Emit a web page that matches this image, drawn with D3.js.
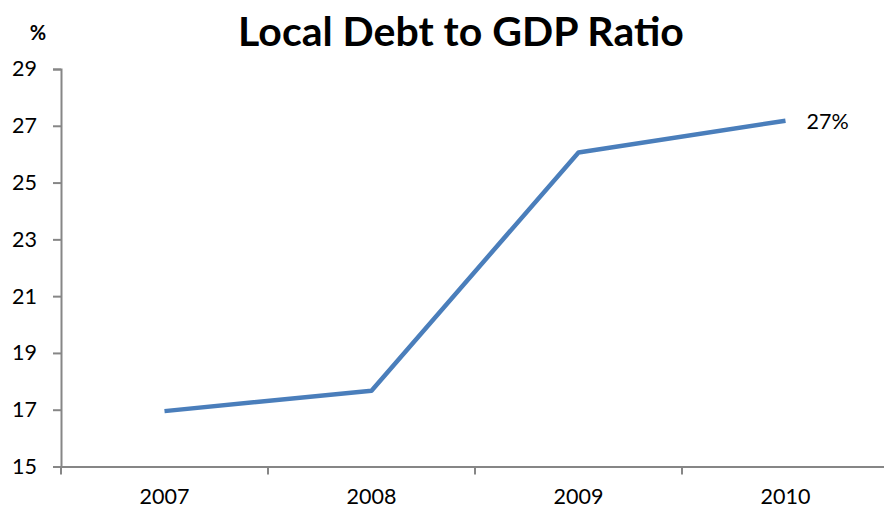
<!DOCTYPE html>
<html>
<head>
<meta charset="utf-8">
<script src="https://cdn.jsdelivr.net/npm/d3@7"></script>
<style>
  body { margin: 0; background: #fff; }
  text { font-family: Lato, "Open Sans", sans-serif; fill: #000; }
</style>
</head>
<body>
<div id="chart"></div>
<script>
let years = ['2007', '2008', '2009', '2010']
let ratio = [16.95, 17.67, 26.06, 27.18]
let yTicks = [15, 17, 19, 21, 23, 25, 27, 29]

let width = 884
let height = 510

let svg = d3.select('#chart')
  .append('svg')
  .attr('width', width)
  .attr('height', height)

let xScale = d3.scaleBand()
  .domain(years)
  .range([61, 889])

let yScale = d3.scaleLinear()
  .domain([15, 29])
  .range([466.5, 69])

// y axis
let yAxis = svg.append('g')
  .attr('transform', 'translate(61, 0)')
  .call(d3.axisLeft(yScale).tickValues(yTicks).tickSize(8).tickPadding(16))
yAxis.selectAll('text').style('font-size', '21.5px')

// x axis, ticks sit at the band edges
let xAxis = svg.append('g')
  .attr('transform', 'translate(0, 466.5)')
  .call(d3.axisBottom(xScale).tickSize(0).tickPadding(22))
xAxis.selectAll('text').style('font-size', '21.5px')
xAxis.selectAll('.edge')
  .data(years.slice(1).concat(['start']))
  .enter()
  .append('line')
  .attr('x1', d => d === 'start' ? xScale(years[0]) : xScale(d))
  .attr('x2', d => d === 'start' ? xScale(years[0]) : xScale(d))
  .attr('y1', 0)
  .attr('y2', 8)

svg.selectAll('.domain, .tick line, g line')
  .attr('stroke', '#868686')
  .attr('stroke-width', 2)

let line = d3.line()
  .x((d, i) => xScale(years[i]) + xScale.bandwidth() / 2)
  .y(d => yScale(d))

svg.append('path')
  .datum(ratio)
  .attr('d', line)
  .attr('fill', 'none')
  .attr('stroke', '#4a7ebb')
  .attr('stroke-width', 4.5)
  .attr('stroke-linejoin', 'round')

// label on the last point
let last = ratio.length - 1
svg.append('text')
  .attr('x', xScale(years[last]) + xScale.bandwidth() / 2 + 21)
  .attr('y', yScale(ratio[last]) + 8)
  .style('font-size', '21.5px')
  .text(Math.round(ratio[last]) + '%')

svg.append('text')
  .attr('x', 461)
  .attr('y', 46)
  .attr('text-anchor', 'middle')
  .style('font-size', '41px')
  .style('font-weight', 'bold')
  .text('Local Debt to GDP Ratio')

svg.append('text')
  .attr('x', 38)
  .attr('y', 40)
  .attr('text-anchor', 'middle')
  .style('font-size', '20px')
  .style('font-weight', 'bold')
  .text('%')
</script>
</body>
</html>
